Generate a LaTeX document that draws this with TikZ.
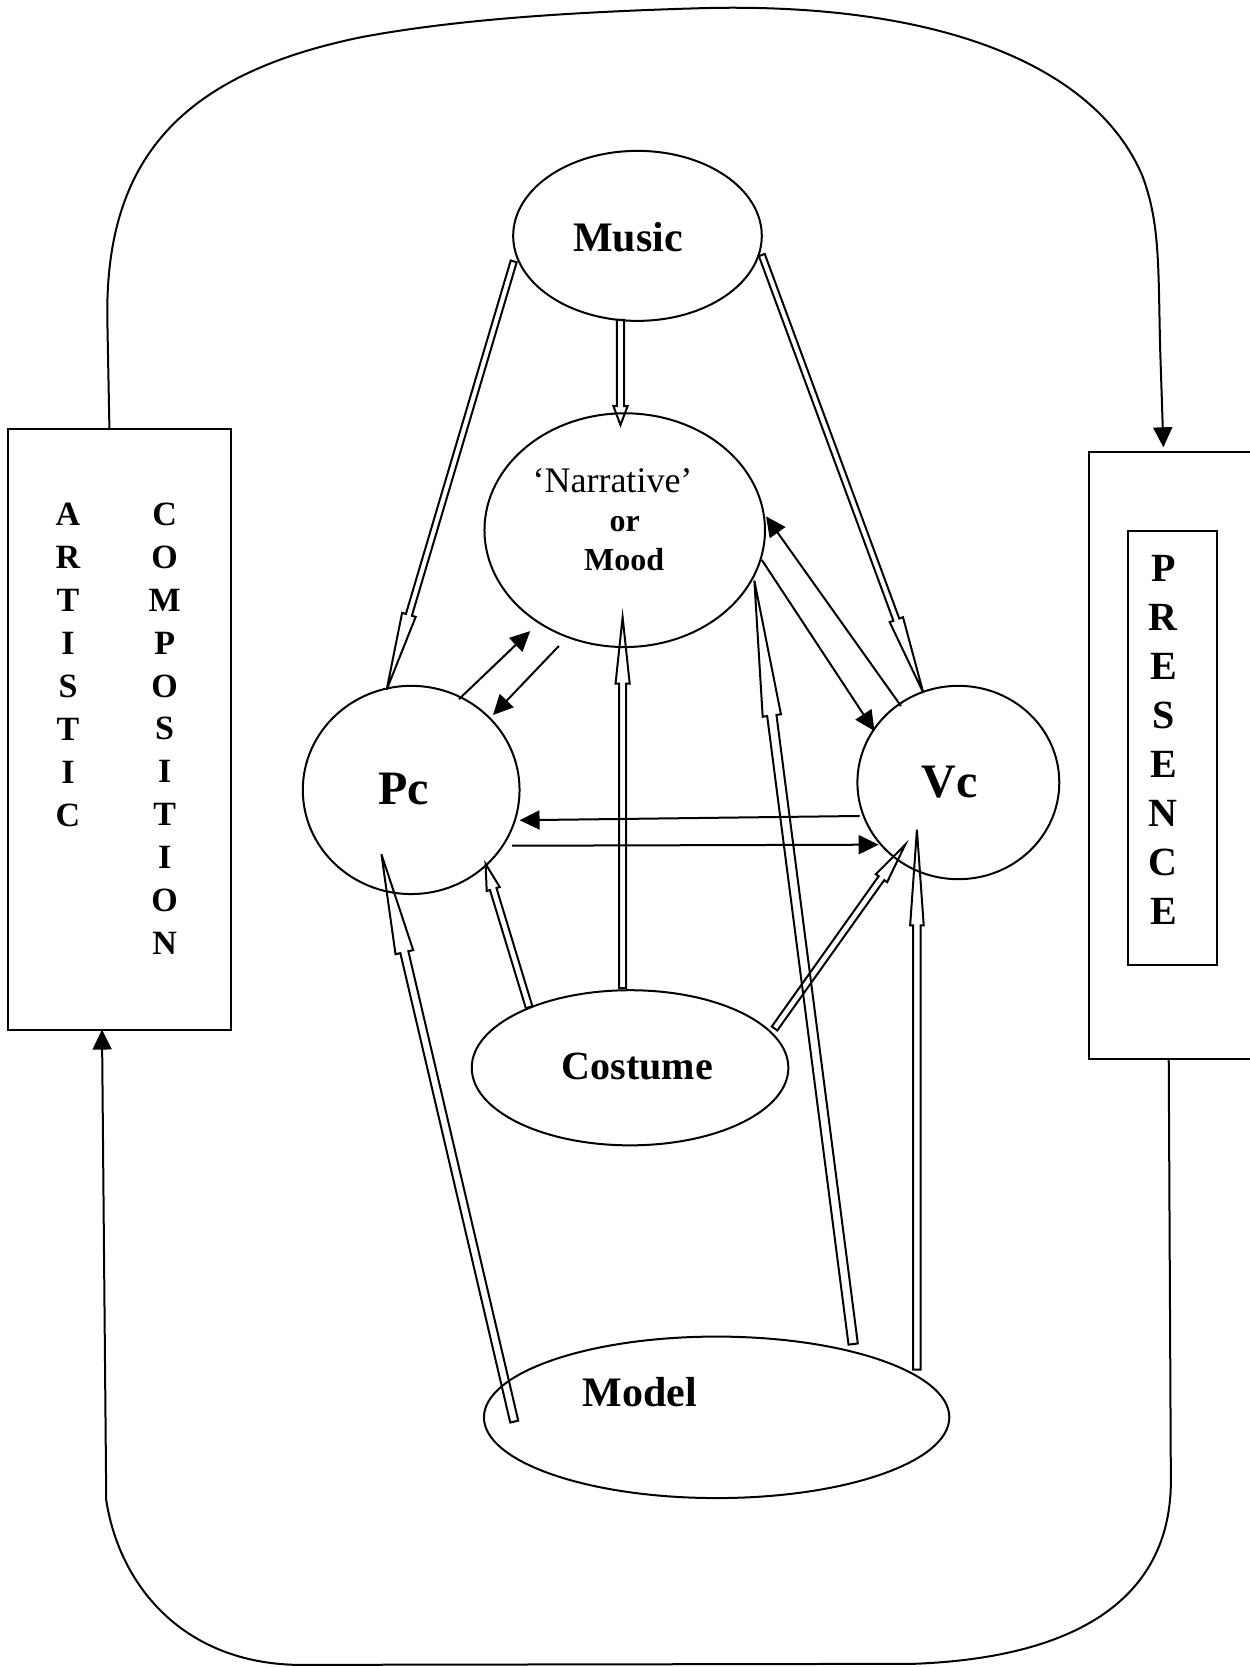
\documentclass[tikz,border=0pt]{standalone}
\usepackage{fontspec}
\setmainfont{Liberation Serif}
\usetikzlibrary{calc,arrows.meta}

% hollow block arrow: tail, tip, shaft half width, head half width, head length
\newcommand{\blockarrow}[5]{%
\coordinate (ba-base) at ($(#2)!#5!(#1)$);
\draw [blk] ($(#1)!#3!90:(#2)$) -- ($(ba-base)!#3!90:(#2)$) -- ($(ba-base)!#4!90:(#2)$) -- (#2) -- ($(ba-base)!#4!-90:(#2)$) -- ($(ba-base)!#3!-90:(#2)$) -- ($(#1)!#3!-90:(#2)$) -- cycle ;
}

\begin{document}
\begin{tikzpicture}[x=0.75pt,y=0.75pt,yscale=-0.70833,xscale=0.70833,
  every path/.style={line width=1pt},
  blk/.style={line width=1pt,line join=miter},
  thinarr/.style={line width=1pt,-{Triangle[length=10pt,width=9.5pt]}},
  vletter/.style={inner sep=0pt,font=\fontsize{17}{20}\selectfont\bfseries},
  pletter/.style={inner sep=0pt,font=\fontsize{20}{24}\selectfont\bfseries}]
\useasboundingbox (0,0) rectangle (1176.5,1569);

%Shape: Rectangle
\draw (8,404) rectangle (217,969) ;
%Shape: Rectangle (runs off the page)
\draw (1176.5,425) -- (1025,425) -- (1025,997) -- (1176.5,997) ;
%Shape: Rectangle
\draw (1062,500) rectangle (1145,908) ;

%Shape: Ellipse
\draw (600,222) ellipse [x radius=117, y radius=80] ;
%Shape: Ellipse
\draw (588,499) ellipse [x radius=132, y radius=110] ;
%Shape: Ellipse
\draw (387,743.5) ellipse [x radius=102, y radius=98] ;
%Shape: Ellipse
\draw (902,736.5) ellipse [x radius=95, y radius=91] ;
%Shape: Ellipse
\draw (593,1005) ellipse [x radius=149, y radius=73] ;
%Shape: Ellipse
\draw (674.5,1334) ellipse [x radius=219, y radius=76] ;

% Text Node
\node (music) at (591,223) [font=\fontsize{21}{25}\selectfont\bfseries] {Music};
% Text Node
\node (narr) at (576.5,452.5) [inner sep=0pt,font=\fontsize{18}{21}\selectfont] {‘Narrative’};
% Text Node
\node (or) at (588,493) [inner sep=0pt,font=\fontsize{16}{19}\selectfont\bfseries] {or};
% Text Node
\node (mood) at (587.5,526.5) [inner sep=0pt,font=\fontsize{16}{19}\selectfont\bfseries] {Mood};
% Text Node
\node (pc) at (380,743) [font=\fontsize{24}{28}\selectfont\bfseries] {Pc};
% Text Node
\node (vc) at (894,736) [font=\fontsize{24}{28}\selectfont\bfseries] {Vc};
% Text Node
\node (costume) at (600,1004) [font=\fontsize{20}{24}\selectfont\bfseries] {Costume};
% Text Node
\node (model) at (602,1310) [font=\fontsize{21}{25}\selectfont\bfseries] {Model};

% Text Node: vertical words
\foreach \ch [count=\i from 0] in {A,R,T,I,S,T,I,C}
  \node (art\i) at (64,484.5+40.4*\i) [vletter] {\ch};
\foreach \ch [count=\i from 0] in {C,O,M,P,O,S,I,T,I,O,N}
  \node (comp\i) at (155,484.5+40.3*\i) [vletter] {\ch};
\foreach \ch [count=\i from 0] in {P,R,E,S,E,N,C,E}
  \node (pres\i) at (1095,535+46.1*\i) [pletter] {\ch};

% end points of the connectors
\coordinate (musN) at (584,301) ;   \coordinate (narN) at (584,400) ;
\coordinate (musP) at (483.5,246) ; \coordinate (pcM) at (364,649) ;
\coordinate (musV) at (717,240) ;   \coordinate (vcM) at (869,652) ;
\coordinate (cosN) at (586,930) ;   \coordinate (narC) at (586,581) ;
\coordinate (cosP) at (498,948) ;   \coordinate (pcC) at (457,813) ;
\coordinate (cosV) at (729,968) ;   \coordinate (vcC) at (852,795) ;
\coordinate (modP) at (484,1338) ;  \coordinate (pcO) at (359,804) ;
\coordinate (modN) at (803,1265) ;  \coordinate (narO) at (710,546.5) ;
\coordinate (modV) at (863,1289) ;  \coordinate (vcO) at (863,781) ;

\coordinate (pcNa) at (432,658) ;   \coordinate (narPa) at (499,594) ;
\coordinate (narPb) at (526,608) ;  \coordinate (pcNb) at (464,673) ;
\coordinate (vcPa) at (809,768) ;   \coordinate (pcVa) at (489,772) ;
\coordinate (pcVb) at (482,796) ;   \coordinate (vcPb) at (827,795) ;
\coordinate (narVa) at (717,527) ;  \coordinate (vcNa) at (823,688) ;
\coordinate (vcNb) at (848,664.5) ; \coordinate (narVb) at (721,486) ;

\coordinate (artTop) at (103,404) ; \coordinate (presTop) at (1095,421) ;
\coordinate (presBot) at (1100,997) ; \coordinate (artBot) at (96,969) ;

%Block arrows
\blockarrow{musN}{narN}{2.5pt}{5pt}{13.3pt}
\blockarrow{musP}{pcM}{2.2pt}{5pt}{55pt}
\blockarrow{musV}{vcM}{2.2pt}{5pt}{55pt}
\blockarrow{cosN}{narC}{2.5pt}{5pt}{46.8pt}
\blockarrow{cosP}{pcC}{2.4pt}{4.8pt}{18.6pt}
\blockarrow{cosV}{vcC}{2.4pt}{4.9pt}{29pt}
\blockarrow{modP}{pcO}{2.9pt}{6.4pt}{71pt}
\blockarrow{modN}{narO}{3.3pt}{6.5pt}{96pt}
\blockarrow{modV}{vcO}{2.65pt}{4.8pt}{67.5pt}

%Straight Lines
\draw [thinarr] (pcNa) -- (narPa) ;
\draw [thinarr] (narPb) -- (pcNb) ;
\draw [thinarr] (vcPa) -- (pcVa) ;
\draw [thinarr] (pcVb) -- (vcPb) ;
\draw [thinarr] (narVa) -- (vcNa) ;
\draw [thinarr] (vcNb) -- (narVb) ;

%Curve Lines
\draw [thinarr] (artTop) -- (101,300) .. controls (99,150) and (170,70) .. (340,35) .. controls (420,20) and (520,12) .. (650,8) .. controls (880,0) and (1030,60) .. (1075,165) .. controls (1092,210) and (1090,250) .. (1092,330) -- (presTop) ;
\draw [thinarr] (presBot) -- (1102,1390) .. controls (1104,1500) and (1020,1560) .. (860,1566) -- (280,1567) .. controls (170,1565) and (112,1490) .. (100,1412) -- (artBot) ;
\end{tikzpicture}
\end{document}
